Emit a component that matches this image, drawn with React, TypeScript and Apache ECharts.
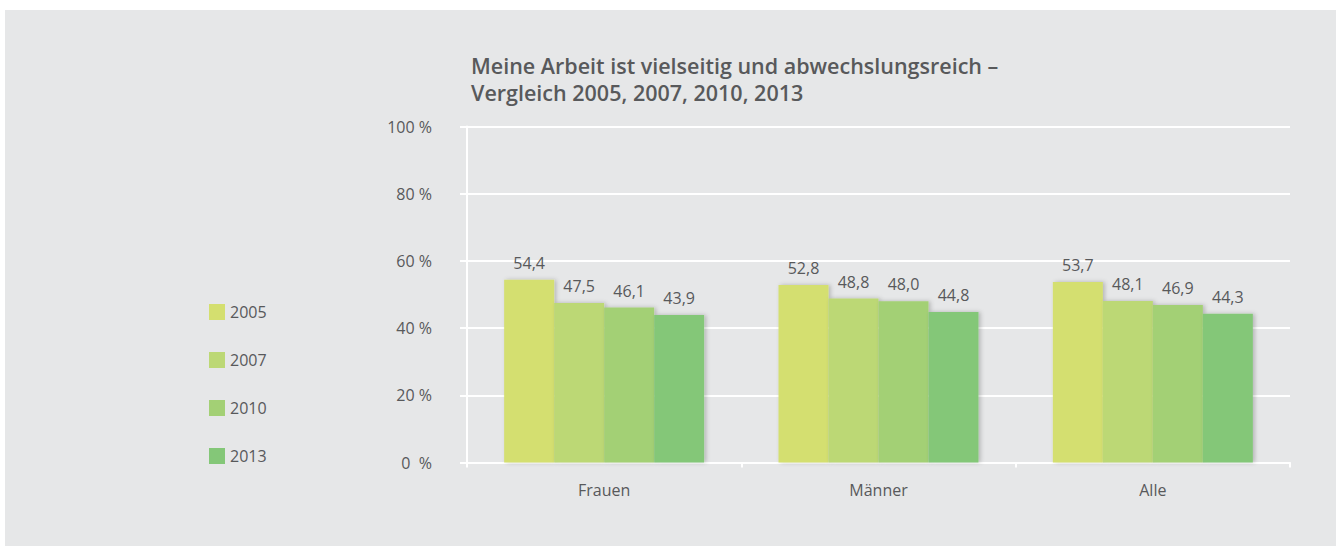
import React, { useEffect, useRef } from "react";
import * as echarts from "echarts";

const categories = ["Frauen", "Männer", "Alle"];
const years = ["2005", "2007", "2010", "2013"];
const values2005 = [54.4, 52.8, 53.7];
const values2007 = [47.5, 48.8, 48.1];
const values2010 = [46.1, 48.0, 46.9];
const values2013 = [43.9, 44.8, 44.3];
const yTicks = [0, 20, 40, 60, 80, 100];
const colors = ["#d4df6f", "#bcd875", "#a3d075", "#84c778"];

const FONT = "'Open Sans', 'Noto Sans', sans-serif";
const TEXT = "#58595b";

export default function App() {
  const ref = useRef<HTMLDivElement>(null);
  useEffect(() => {
    if (!ref.current) return;
    const chart = echarts.init(ref.current, undefined, { renderer: "svg" });
    const seriesData = [values2005, values2007, values2010, values2013];
    chart.setOption({
      animation: false,
      backgroundColor: "#ffffff",
      textStyle: { fontFamily: FONT },
      graphic: [
        {
          type: "rect",
          z: -10,
          silent: true,
          shape: { x: 5, y: 10, width: 1331, height: 536 },
          style: { fill: "#e6e7e8" },
        },
      ],
      title: {
        text: "Meine Arbeit ist vielseitig und abwechslungsreich –\nVergleich 2005, 2007, 2010, 2013",
        left: 466,
        top: 47,
        textStyle: {
          fontFamily: FONT,
          fontSize: 21.5,
          fontWeight: 600,
          color: TEXT,
          lineHeight: 27,
        },
      },
      legend: {
        orient: "vertical",
        left: 209,
        top: 304,
        padding: 0,
        itemWidth: 16,
        itemHeight: 16,
        itemGap: 32,
        icon: "rect",
        data: years,
        textStyle: { fontFamily: FONT, fontSize: 16, color: TEXT },
        selectedMode: false,
      },
      grid: { left: 467, right: 46, top: 126.5, bottom: 83.5, containLabel: false },
      xAxis: {
        type: "category",
        data: categories,
        axisLine: { show: true, lineStyle: { color: "#ffffff", width: 2 } },
        axisTick: { show: true, length: 5, lineStyle: { color: "#ffffff", width: 2 } },
        axisLabel: { color: TEXT, fontSize: 16, fontFamily: FONT, margin: 19 },
      },
      yAxis: {
        type: "value",
        min: 0,
        max: 100,
        interval: 20,
        axisLine: { show: true, lineStyle: { color: "#ffffff", width: 2 } },
        axisTick: { show: true, length: 7, lineStyle: { color: "#ffffff", width: 2 } },
        splitLine: { show: true, lineStyle: { color: "#ffffff", width: 2 } },
        axisLabel: {
          color: TEXT,
          fontSize: 16,
          fontFamily: FONT,
          margin: 35,
          formatter: (v: number) => (yTicks.includes(v) ? (v === 0 ? "0  %" : `${v} %`) : ""),
        },
      },
      series: years.map((y, i) => ({
        name: y,
        type: "bar",
        data: seriesData[i],
        barWidth: 50,
        barGap: "0%",
        itemStyle: {
          color: colors[i],
          shadowColor: "rgba(0,0,0,0.22)",
          shadowBlur: 4,
          shadowOffsetX: 2,
          shadowOffsetY: 0,
        },
        label: {
          show: true,
          position: "top",
          distance: 9,
          color: TEXT,
          fontSize: 16,
          fontFamily: FONT,
          formatter: (p: any) => Number(p.value).toFixed(1).replace(".", ","),
        },
      })),
    });
    return () => chart.dispose();
  }, []);
  return (
    <div
      ref={ref}
      style={{ position: "absolute", left: 0, top: 0, width: 1336, height: 546 }}
    />
  );
}
